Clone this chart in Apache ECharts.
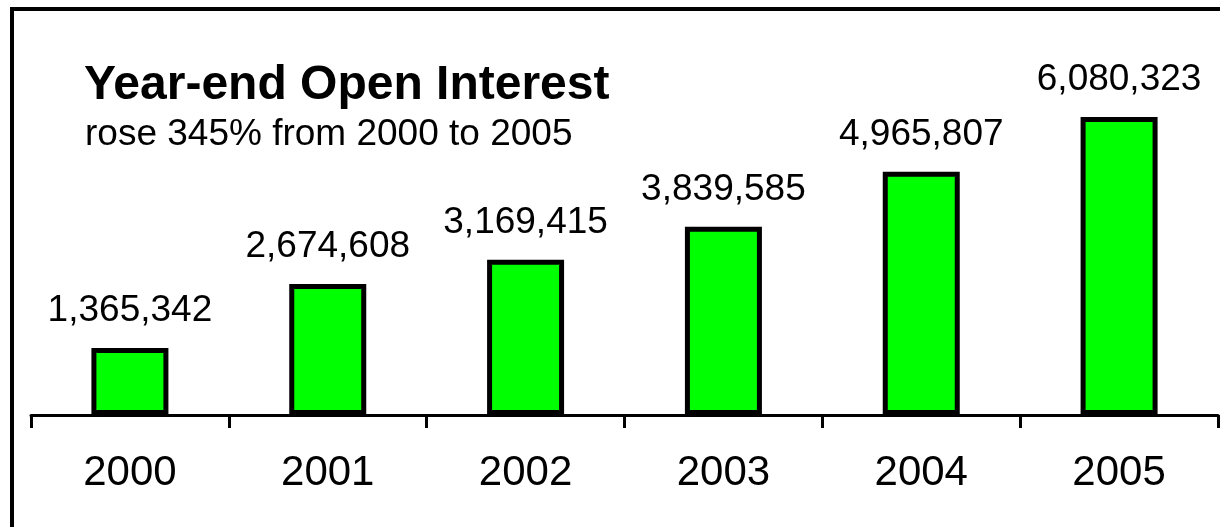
<!DOCTYPE html>
<html>
<head>
<meta charset="utf-8">
<script src="https://cdn.jsdelivr.net/npm/echarts@6/dist/echarts.min.js"></script>
<style>
  html, body { margin: 0; padding: 0; background: #ffffff; }
  #chart { width: 1220px; height: 527px; }
</style>
</head>
<body>
<div id="chart"></div>
<script>
// Year-end open interest, contracts
const years = ['2000', '2001', '2002', '2003', '2004', '2005'];
const openInterest = [1365342, 2674608, 3169415, 3839585, 4965807, 6080323];

const titleText = 'Year-end Open Interest';
const subtitleText = 'rose 345% from 2000 to 2005';

const FONT = '"Liberation Sans", Arial, Helvetica, sans-serif';

const chart = echarts.init(document.getElementById('chart'), null, { renderer: 'canvas' });

chart.setOption({
  animation: false,
  backgroundColor: '#ffffff',
  grid: { left: 31, right: 2, top: 72, bottom: 112, containLabel: false },
  xAxis: {
    type: 'category',
    data: years,
    boundaryGap: true,
    axisLine: { show: true, lineStyle: { color: '#000', width: 3 } },
    axisTick: { show: true, length: 13, lineStyle: { color: '#000', width: 3 } },
    axisLabel: { color: '#000', fontSize: 42, fontFamily: FONT, margin: 37, lineHeight: 42 }
  },
  yAxis: {
    type: 'value',
    min: 0,
    max: 7000000,
    show: false,
    splitLine: { show: false }
  },
  series: [{
    type: 'bar',
    data: openInterest,
    barWidth: 77,
    itemStyle: { color: '#00ff00', borderColor: '#000', borderWidth: 5 },
    label: {
      show: true,
      position: 'top',
      distance: 19,
      color: '#000',
      fontSize: 37,
      lineHeight: 36,
      fontFamily: FONT,
      formatter: p => p.value.toLocaleString('en-US')
    }
  }],
  graphic: [
    {
      type: 'rect',
      silent: true,
      shape: { x: 12, y: 9, width: 1300, height: 700 },
      style: { fill: 'none', stroke: '#000', lineWidth: 4 }
    },
    {
      type: 'text',
      silent: true,
      style: {
        text: titleText,
        x: 84, y: 86,
        textVerticalAlign: 'middle',
        font: 'bold 48px ' + FONT,
        fill: '#000'
      }
    },
    {
      type: 'text',
      silent: true,
      style: {
        text: subtitleText,
        x: 85, y: 135,
        textVerticalAlign: 'middle',
        font: '37px ' + FONT,
        fill: '#000'
      }
    }
  ]
});
</script>
</body>
</html>
